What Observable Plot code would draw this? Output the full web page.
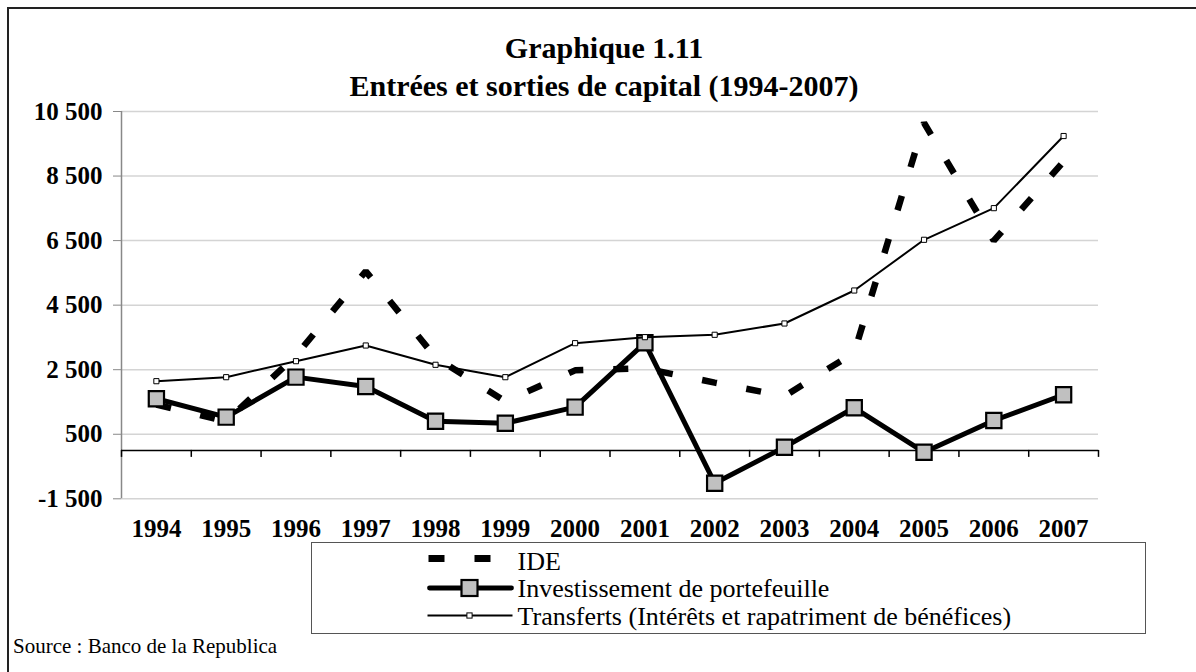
<!DOCTYPE html>
<html>
<head>
<meta charset="utf-8">
<script src="https://cdn.jsdelivr.net/npm/d3@7"></script>
<script src="https://cdn.jsdelivr.net/npm/@observablehq/plot@0.6"></script>
<style>
  html, body { margin: 0; padding: 0; background: #fff; overflow: hidden; }
  #page { position: relative; width: 1196px; height: 672px; overflow: hidden; font-family: 'Liberation Serif', 'Times New Roman', serif; }
  #frame { position: absolute; left: 7px; top: 7px; width: 1400px; height: 900px; border: 2px solid #222; box-sizing: border-box; }
  #title { position: absolute; left: 0; width: 1208px; top: 0; text-align: center; font-weight: bold; font-size: 30px; line-height: 38px; padding-top: 29px; color: #000; white-space: nowrap; }
  #chart { position: absolute; left: 0; top: 95px; }
  #chart svg, #chart svg text { font-family: 'Liberation Serif', 'Times New Roman', serif !important; }
  #legend { position: absolute; left: 311px; top: 542px; width: 835px; height: 92px; border: 1.5px solid #555; box-sizing: border-box; background: #fff; }
  #legend text { font-family: 'Liberation Serif', 'Times New Roman', serif; }
  #source { position: absolute; left: 13px; top: 634px; font-size: 21px; color: #000; white-space: nowrap; }
</style>
</head>
<body>
<div id="page">
  <div id="frame"></div>
  <div id="title">Graphique 1.11<br>Entrées et sorties de capital (1994-2007)</div>
  <div id="chart"></div>
  <div id="legend"></div>
  <div id="source">Source : Banco de la Republica</div>
</div>
<script>
// ---- data ----
const years = [1994, 1995, 1996, 1997, 1998, 1999, 2000, 2001, 2002, 2003, 2004, 2005, 2006, 2007];
const ide = [1420, 900, 2940, 5550, 2880, 1520, 2480, 2540, 2100, 1680, 3030, 10150, 6500, 8950];
const portefeuille = [1600, 1030, 2270, 1980, 905, 843, 1340, 3333, -1016, 99, 1320, -56, 926, 1723];
const transferts = [2144, 2268, 2764, 3250, 2652, 2268, 3322, 3508, 3582, 3932, 4954, 6525, 7505, 9740];
const yTicks = [-1500, 500, 2500, 4500, 6500, 8500, 10500];
const seriesNames = ["IDE", "Investissement de portefeuille", "Transferts (Intérêts et rapatriment de bénéfices)"];

const rows = (vals) => years.map((year, i) => ({year, value: vals[i]}));
const ideRows = rows(ide), pfRows = rows(portefeuille), trRows = rows(transferts);
const boundaries = d3.range(years.length + 1).map(i => years[0] - 0.5 + i);

const locale = d3.formatLocale({decimal: ",", thousands: " ", grouping: [3], currency: ["", ""], minus: "-"});
const fmt = locale.format(",");

const serif = "'Liberation Serif', 'Times New Roman', serif";
const yMin = yTicks[0], yMax = yTicks[yTicks.length - 1];
const tickLen = 217; // short category ticks below the zero line (data units)

const chart = Plot.plot({
  width: 1196,
  height: 450,
  marginLeft: 121,
  marginRight: 98,
  marginTop: 16,
  marginBottom: 46.7,
  style: {fontFamily: serif, background: "transparent", overflow: "visible"},
  x: {domain: [years[0] - 0.5, years[years.length - 1] + 0.5], axis: null},
  y: {domain: [yMin, yMax], axis: null},
  marks: [
    Plot.ruleY(yTicks, {stroke: "#d4d4d4", strokeWidth: 1.5}),
    Plot.ruleX([boundaries[0]], {y1: yMin, y2: yMax, stroke: "#888", strokeWidth: 1.5}),
    Plot.axisY({ticks: yTicks, tickSize: 8, tickPadding: 11, tickFormat: fmt, stroke: "#888",
      fontSize: 25, fontWeight: "bold", fill: "#000", label: null}),
    Plot.ruleY([0], {stroke: "#000", strokeWidth: 1.5}),
    Plot.ruleX(boundaries, {y1: 0, y2: -tickLen, stroke: "#000", strokeWidth: 1.5}),
    Plot.text(years, {x: d => d, y: yMin, dy: 30, text: d => String(d), fontSize: 25, fontWeight: "bold", fill: "#000"}),
    Plot.line(ideRows, {x: "year", y: "value", stroke: "#000", strokeWidth: 6.5, strokeDasharray: "15,30", strokeLinecap: "butt", strokeLinejoin: "miter"}),
    Plot.line(pfRows, {x: "year", y: "value", stroke: "#000", strokeWidth: 5, strokeLinejoin: "round"}),
    Plot.dot(pfRows, {x: "year", y: "value", symbol: "square", r: 8.6, fill: "#c0c0c0", stroke: "#000", strokeWidth: 2.2}),
    Plot.line(trRows, {x: "year", y: "value", stroke: "#000", strokeWidth: 2}),
    Plot.dot(trRows, {x: "year", y: "value", symbol: "square", r: 2.9, fill: "#fff", stroke: "#000", strokeWidth: 1})
  ]
});
document.getElementById("chart").appendChild(chart);

// ---- legend ----
const ns = "http://www.w3.org/2000/svg";
const lg = document.createElementNS(ns, "svg");
lg.setAttribute("width", 832);
lg.setAttribute("height", 89);
lg.style.position = "absolute";
lg.style.left = "0px";
lg.style.top = "0px";
const ox = 312.5, oy = 543.5; // legend box inner origin on page
function el(tag, attrs) { const e = document.createElementNS(ns, tag); for (const k in attrs) e.setAttribute(k, attrs[k]); lg.appendChild(e); return e; }
const rowY = [559, 588.5, 616];
const baseY = [570, 597.5, 625];
// IDE swatch
el("rect", {x: 429 - ox, y: rowY[0] - 3.5 - oy, width: 16, height: 7, fill: "#000"});
el("rect", {x: 475 - ox, y: rowY[0] - 3.5 - oy, width: 16, height: 7, fill: "#000"});
// Portefeuille swatch
el("line", {x1: 430 - ox, x2: 512 - ox, y1: rowY[1] - oy, y2: rowY[1] - oy, stroke: "#000", "stroke-width": 4.8, "stroke-linecap": "round"});
el("rect", {x: 470 - 8 - ox, y: rowY[1] - 8 - oy, width: 16, height: 16, fill: "#c0c0c0", stroke: "#000", "stroke-width": 2.2});
// Transferts swatch
el("line", {x1: 428 - ox, x2: 513 - ox, y1: rowY[2] - oy, y2: rowY[2] - oy, stroke: "#000", "stroke-width": 2});
el("rect", {x: 470 - 2.6 - ox, y: rowY[2] - 2.6 - oy, width: 5.2, height: 5.2, fill: "#fff", stroke: "#000", "stroke-width": 1});
seriesNames.forEach((name, i) => {
  const t = el("text", {x: 518 - ox, y: baseY[i] - oy, "font-size": 26, fill: "#000"});
  t.textContent = name;
});
document.getElementById("legend").appendChild(lg);
</script>
</body>
</html>
